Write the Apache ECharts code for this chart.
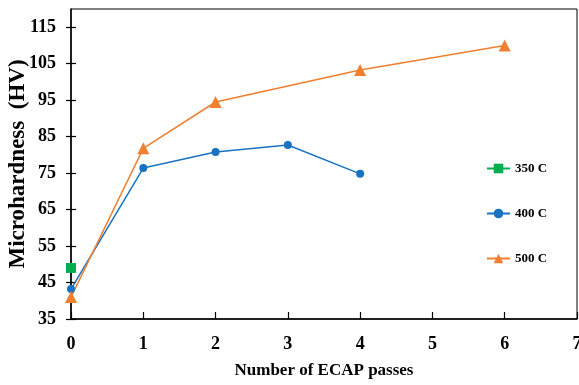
<!DOCTYPE html>
<html>
<head>
<meta charset="utf-8">
<script src="https://cdn.jsdelivr.net/npm/echarts@6/dist/echarts.min.js"></script>
<style>
  html, body { margin: 0; padding: 0; background: #fff; }
  #chart { width: 579px; height: 385px; }
</style>
</head>
<body>
<div id="chart"></div>
<script>
// data
var passes350 = [0];
var hv350 = [49];
var passes400 = [0, 1, 2, 3, 4];
var hv400 = [43.2, 76.4, 80.8, 82.7, 74.8];
var passes500 = [0, 1, 2, 4, 6];
var hv500 = [41, 81.8, 94.5, 103.3, 110];
var yTicks = [35, 45, 55, 65, 75, 85, 95, 105, 115];
var xTicks = [0, 1, 2, 3, 4, 5, 6, 7];

function pairs(xs, ys) {
  var out = [];
  for (var i = 0; i < xs.length; i++) out.push([xs[i], ys[i]]);
  return out;
}

var font = "Liberation Serif";
var labelStyle = { fontFamily: font, fontWeight: "bold", fontSize: 18, color: "#000" };
var chart = echarts.init(document.getElementById("chart"));
var option = {
  animation: false,
  grid: {
    left: 71,
    right: 2,
    top: 9,
    bottom: 66,
    outerBoundsMode: "none",
    containLabel: false,
    show: true,
    borderColor: "#000",
    borderWidth: 1
  },
  legend: {
    orient: "vertical",
    left: 481,
    top: 157,
    itemGap: 32,
    itemWidth: 23,
    itemHeight: 12,
    textStyle: { fontFamily: font, fontWeight: "bold", fontSize: 13, color: "#000" },
    data: ["350 C", "400 C", "500 C"]
  },
  xAxis: {
    type: "value",
    min: 0,
    max: 7,
    interval: 1,
    name: "Number of ECAP passes",
    nameLocation: "middle",
    nameGap: 43,
    nameMoveOverlap: false,
    nameTextStyle: { fontFamily: font, fontWeight: "bold", fontSize: 17, color: "#000" },
    axisLine: { lineStyle: { color: "#000", width: 1.5 } },
    axisTick: { show: true, inside: true, length: 7, lineStyle: { color: "#000", width: 1.2 }, customValues: xTicks },
    axisLabel: Object.assign({ margin: 16, customValues: xTicks }, labelStyle),
    splitLine: { show: false }
  },
  yAxis: [
    {
      type: "value",
      min: 35,
      max: 120,
      name: "Microhardness  (HV)",
      nameLocation: "middle",
      nameGap: 41,
      nameMoveOverlap: false,
      nameTextStyle: { fontFamily: font, fontWeight: "bold", fontSize: 23, color: "#000" },
      axisLine: { lineStyle: { color: "#000", width: 1.5 } },
      axisTick: { show: true, length: 5, lineStyle: { color: "#000", width: 1.2 }, customValues: yTicks },
      axisLabel: Object.assign({ margin: 15, customValues: yTicks }, labelStyle),
      splitLine: { show: false }
    },
    {
      // same scale again, only to let the ticks cross the axis line
      type: "value",
      position: "left",
      min: 35,
      max: 120,
      axisLine: { show: false },
      axisTick: { show: true, inside: true, length: 5, lineStyle: { color: "#000", width: 1.2 }, customValues: yTicks },
      axisLabel: { show: false },
      splitLine: { show: false }
    }
  ],
  series: [
    {
      name: "350 C",
      type: "line",
      data: pairs(passes350, hv350),
      symbol: "rect",
      symbolSize: 10,
      itemStyle: { color: "#00B050" },
      lineStyle: { color: "#00B050", width: 1.5 }
    },
    {
      name: "400 C",
      type: "line",
      data: pairs(passes400, hv400),
      symbol: "circle",
      symbolSize: 8,
      itemStyle: { color: "#1A73C2" },
      lineStyle: { color: "#1A73C2", width: 1.5 }
    },
    {
      name: "500 C",
      type: "line",
      data: pairs(passes500, hv500),
      symbol: "triangle",
      symbolSize: 12,
      itemStyle: { color: "#F07F30" },
      lineStyle: { color: "#F07F30", width: 1.5 }
    }
  ]
};
chart.setOption(option);
window.addEventListener("resize", function() {
  chart.resize();
});
</script>
</body>
</html>
